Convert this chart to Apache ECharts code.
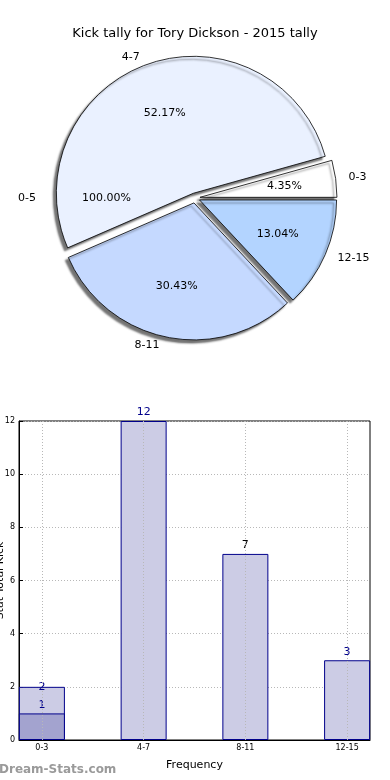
<!DOCTYPE html>
<html>
<head>
<meta charset="utf-8">
<script src="https://cdn.jsdelivr.net/npm/echarts@6/dist/echarts.min.js"></script>
<style>
html,body{margin:0;padding:0;background:#fff;}
#chart{width:390px;height:780px;}
</style>
</head>
<body>
<div id="chart"></div>
<script>
const titleText = 'Kick tally for Tory Dickson - 2015 tally';
const categories = ['0-3', '4-7', '8-11', '12-15'];
const kickCounts = [1, 12, 7, 3];
const pieColors = ['#ffffff', '#eaf1ff', '#c5d9ff', '#b3d4ff'];
const extraPieName = ['0-5'];
const extraPieValue = [1];
const barTotals = [2, 12, 7, 3];
const barLower = [1];
const barPositions = [0, 1, 2, 3];
const labelColors = ['#00008b', '#00008b', '#000000', '#00008b'];

const FONT = 'DejaVu Sans';
const chart = echarts.init(document.getElementById('chart'), null, {renderer: 'canvas'});

const pieData = categories.map((c, i) => ({
  name: c, value: kickCounts[i], selected: true,
  itemStyle: {color: pieColors[i]}
}));
const totalKicks = kickCounts.reduce((a, b) => a + b, 0);
const pctFmt = p => (p.value / totalKicks * 100).toFixed(2) + '%';
const extraTotal = extraPieValue.reduce((a, b) => a + b, 0);
const extraPctFmt = p => (p.value / extraTotal * 100).toFixed(2) + '%';
const CX = 195, CY = 198, R = 137;

const option = {
  animation: false,
  backgroundColor: '#ffffff',
  textStyle: {fontFamily: FONT},
  title: {
    text: titleText, left: 'center', top: 22,
    textStyle: {fontFamily: FONT, fontSize: 13, fontWeight: 'normal', color: '#000'}
  },
  graphic: [{
    type: 'text', left: -1, top: 764,
    style: {text: 'Dream-Stats.com', font: 'bold 12px "DejaVu Sans"', fill: '#9a9a9a'}
  }],
  grid: {left: 19, right: 20, top: 421, bottom: 40, containLabel: false, outerBoundsMode: 'none',
    show: true, borderColor: '#000', borderWidth: 1, backgroundColor: 'transparent'},
  xAxis: {
    type: 'value', min: -0.225, max: 3.225,
    name: 'Frequency', nameLocation: 'middle', nameGap: 20,
    nameTextStyle: {fontFamily: FONT, fontSize: 11, color: '#000'},
    axisLine: {show: true, onZero: false, lineStyle: {color: '#000'}},
    axisTick: {show: true, inside: true, length: 4, customValues: barPositions, lineStyle: {color: '#000'}},
    axisLabel: {fontFamily: FONT, fontSize: 8, color: '#000', margin: 4, customValues: barPositions,
      formatter: v => categories[Math.round(v)] || ''},
    splitLine: {show: false}
  },
  yAxis: {
    type: 'value', min: 0, max: 12, interval: 2,
    name: 'Stat Total Kick', nameLocation: 'middle', nameGap: 13, nameRotate: 90, nameMoveOverlap: false,
    nameTextStyle: {fontFamily: FONT, fontSize: 11, color: '#000'},
    axisLine: {show: true, onZero: false, lineStyle: {color: '#000'}},
    axisTick: {show: true, inside: true, length: 4, lineStyle: {color: '#000'}},
    axisLabel: {fontFamily: FONT, fontSize: 8, color: '#000', margin: 4},
    splitLine: {show: true, lineStyle: {color: '#b8b8b8', type: [1, 2], width: 1}}
  },
  series: [
    {
      type: 'pie', center: [CX, CY], radius: R,
      startAngle: 0, clockwise: false, selectedMode: 'multiple', selectedOffset: 5,
      data: pieData, z: 3,
      itemStyle: {borderColor: '#000', borderWidth: 0.8, shadowColor: 'rgba(0,0,0,0.55)', shadowBlur: 2, shadowOffsetX: -3, shadowOffsetY: 3},
      label: {show: true, position: 'outside', formatter: '{b}', fontFamily: FONT, fontSize: 11, color: '#000'},
      labelLine: {show: false, length: 8, length2: 0},
      emphasis: {disabled: true}, silent: true
    },
    {
      type: 'pie', center: [CX, CY], radius: R * 1.2,
      startAngle: 0, clockwise: false, selectedMode: 'multiple', selectedOffset: 5,
      data: pieData.map(d => ({name: d.name, value: d.value, selected: true})), z: 4,
      itemStyle: {color: 'rgba(0,0,0,0)', borderWidth: 0},
      label: {show: true, position: 'inside', formatter: pctFmt, fontFamily: FONT, fontSize: 11, color: '#000'},
      labelLine: {show: false},
      emphasis: {disabled: true}, silent: true
    },
    {
      type: 'pie', center: [CX, CY], radius: R + 5,
      startAngle: 0, clockwise: false,
      data: extraPieName.map((n, i) => ({name: n, value: extraPieValue[i]})), z: 4,
      itemStyle: {color: 'rgba(0,0,0,0)', borderWidth: 0},
      label: {show: true, position: 'outside', formatter: '{b}', fontFamily: FONT, fontSize: 11, color: '#000'},
      labelLine: {show: false, length: 12, length2: 0},
      emphasis: {disabled: true}, silent: true
    },
    {
      type: 'pie', center: [CX, CY], radius: R * 1.25,
      startAngle: 0, clockwise: false,
      data: extraPieName.map((n, i) => ({name: n, value: extraPieValue[i]})), z: 4,
      itemStyle: {color: 'rgba(0,0,0,0)', borderWidth: 0},
      label: {show: true, position: 'inside', formatter: extraPctFmt, fontFamily: FONT, fontSize: 11, color: '#000'},
      labelLine: {show: false},
      emphasis: {disabled: true}, silent: true
    },
    {
      type: 'bar', barWidth: 46, barGap: '-100%',
      data: barTotals.map((v, i) => ({
        value: [barPositions[i], v],
        label: {color: labelColors[i], distance: i === 0 ? -6 : 3}
      })),
      itemStyle: {color: '#ccccE5', borderColor: '#00008b', borderWidth: 1},
      label: {show: true, position: 'top', fontFamily: FONT, fontSize: 11, formatter: p => p.value[1]},
      markLine: {
        silent: true, symbol: 'none',
        lineStyle: {color: '#b8b8b8', type: [1, 2], width: 1},
        label: {show: false},
        data: barPositions.map(x => ({xAxis: x}))
      },
      z: 2
    },
    {
      type: 'bar', barWidth: 46, barGap: '-100%',
      data: barLower.map((v, i) => ({value: [barPositions[i], v]})),
      itemStyle: {color: '#a3a3cf', borderColor: '#00008b', borderWidth: 1},
      label: {show: true, position: 'top', distance: 3, fontFamily: FONT, fontSize: 11, color: '#00008b', formatter: p => p.value[1]},
      z: 3
    }
  ]
};
chart.setOption(option);
</script>
</body>
</html>
